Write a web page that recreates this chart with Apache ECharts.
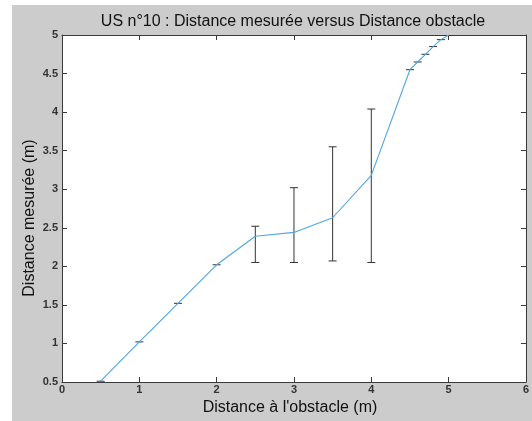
<!DOCTYPE html>
<html>
<head>
<meta charset="utf-8">
<script src="https://cdn.jsdelivr.net/npm/echarts@6/dist/echarts.min.js"></script>
<style>
  html, body { margin: 0; padding: 0; background: #fff; }
  #chart { width: 532px; height: 421px; }
</style>
</head>
<body>
<div id="chart"></div>
<script>
// distance obstacle (m)
var distObstacle = [0.5, 1, 1.5, 2, 2.5, 3, 3.5, 4, 4.5, 4.6, 4.7, 4.8, 4.9, 5];
// distance mesurée moyenne (m)
var distMesuree = [0.51, 1.02, 1.52, 2.02, 2.39, 2.44, 2.63, 3.18, 4.55, 4.65, 4.75, 4.85, 4.94, 5.0];
// bornes min / max
var mesureMin = [0.51, 1.02, 1.52, 2.02, 2.05, 2.05, 2.07, 2.05, 4.55, 4.65, 4.75, 4.85, 4.94, 5.0];
var mesureMax = [0.51, 1.02, 1.52, 2.02, 2.52, 3.02, 3.55, 4.04, 4.55, 4.65, 4.75, 4.85, 4.94, 5.0];

var xTicks = [0, 1, 2, 3, 4, 5, 6];
var yTicks = [0.5, 1, 1.5, 2, 2.5, 3, 3.5, 4, 4.5, 5];

var lineData = distObstacle.map(function (x, i) { return [x, distMesuree[i]]; });
var barData = distObstacle.map(function (x, i) { return [x, mesureMin[i], mesureMax[i]]; });

var txtFont = 'Liberation Sans, Arial, sans-serif';
var frameColor = '#3a3a3a';

var chart = echarts.init(document.getElementById('chart'), null, { renderer: 'canvas' });

var axisCommon = {
  type: 'value',
  splitLine: { show: false },
  axisLine: { show: true, onZero: false, lineStyle: { color: frameColor, width: 1 } },
  axisTick: { show: true, inside: true, length: 5, lineStyle: { color: frameColor } }
};

chart.setOption({
  animation: false,
  backgroundColor: '#ffffff',
  graphic: [{
    type: 'rect',
    z: -10,
    silent: true,
    shape: { x: 12, y: 5, width: 520, height: 416 },
    style: { fill: '#cccccc' }
  }, {
    // titre de l'axe Y (un peu sous le centre, comme dans l'original)
    type: 'text',
    x: 30,
    y: 218,
    rotation: Math.PI / 2,
    silent: true,
    style: {
      text: 'Distance mesurée (m)',
      fontFamily: txtFont,
      fontSize: 16,
      fill: '#111',
      textAlign: 'center',
      textVerticalAlign: 'middle'
    }
  }],
  title: {
    text: 'US n°10 : Distance mesurée versus Distance obstacle',
    left: 288,
    textAlign: 'center',
    top: 9,
    textStyle: { fontFamily: txtFont, fontSize: 16, fontWeight: 'normal', color: '#111' }
  },
  grid: {
    left: 62, right: 6, top: 35, bottom: 38,
    show: true, backgroundColor: '#ffffff', borderWidth: 0
  },
  xAxis: [
    Object.assign({}, axisCommon, {
      min: xTicks[0], max: xTicks[xTicks.length - 1], interval: 1,
      position: 'bottom',
      name: "Distance à l'obstacle (m)",
      nameLocation: 'middle',
      nameGap: 18,
      nameTextStyle: { fontFamily: txtFont, fontSize: 16, color: '#111', padding: [0, 8, 0, 0] },
      axisLabel: { fontFamily: txtFont, fontSize: 11, color: '#333', margin: 2, fontWeight: 'bold' }
    }),
    Object.assign({}, axisCommon, {
      min: xTicks[0], max: xTicks[xTicks.length - 1], interval: 1,
      position: 'top',
      axisLabel: { show: false }
    })
  ],
  yAxis: [
    Object.assign({}, axisCommon, {
      min: yTicks[0], max: yTicks[yTicks.length - 1], interval: 0.5,
      position: 'left',
      axisLabel: { fontFamily: txtFont, fontSize: 11, color: '#333', margin: 4, fontWeight: 'bold' }
    }),
    Object.assign({}, axisCommon, {
      min: yTicks[0], max: yTicks[yTicks.length - 1], interval: 0.5,
      position: 'right',
      axisLabel: { show: false }
    })
  ],
  series: [
    {
      type: 'line',
      data: lineData,
      symbol: 'none',
      clip: true,
      lineStyle: { color: '#4fa6e3', width: 1.1 },
      z: 3
    },
    {
      type: 'custom',
      data: barData,
      z: 2,
      clip: true,
      renderItem: function (params, api) {
        var x = api.value(0);
        var lo = api.coord([x, api.value(1)]);
        var hi = api.coord([x, api.value(2)]);
        var hw = 4;
        var st = { stroke: '#333333', lineWidth: 1 };
        var kids = [
          { type: 'line', shape: { x1: hi[0] - hw, y1: hi[1], x2: hi[0] + hw, y2: hi[1] }, style: st }
        ];
        if (Math.abs(lo[1] - hi[1]) > 1) {
          kids.push({ type: 'line', shape: { x1: lo[0], y1: lo[1], x2: hi[0], y2: hi[1] }, style: st });
          kids.push({ type: 'line', shape: { x1: lo[0] - hw, y1: lo[1], x2: lo[0] + hw, y2: lo[1] }, style: st });
        }
        return { type: 'group', children: kids };
      }
    }
  ]
});
</script>
</body>
</html>
